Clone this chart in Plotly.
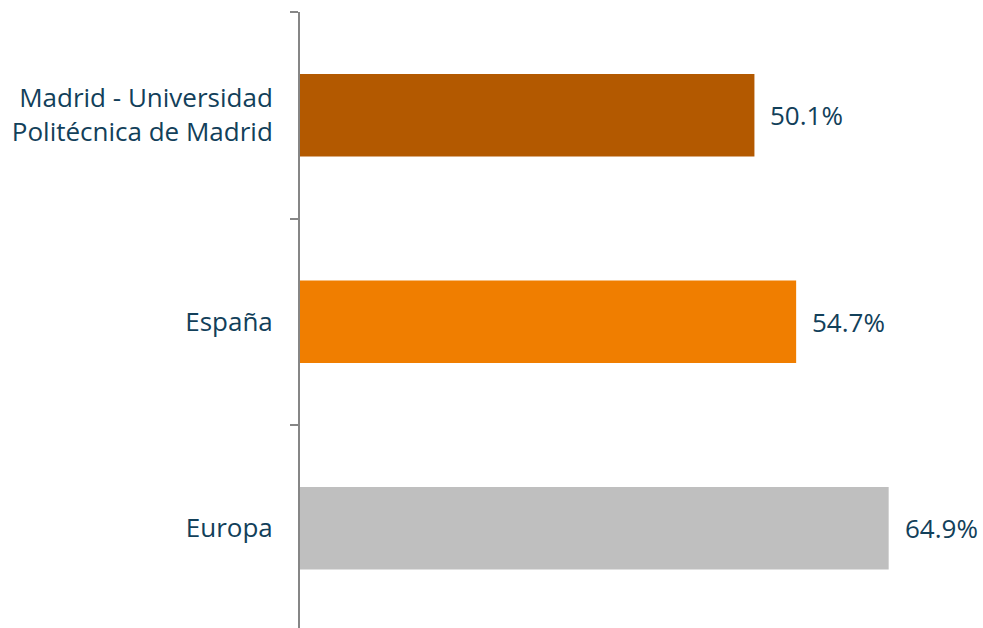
import plotly.graph_objects as go

categories = ["Madrid - Universidad<br>Politécnica de Madrid", "España", "Europa"]
values = [50.1, 54.7, 64.9]
value_labels = ["50.1%", "54.7%", "64.9%"]
bar_colors = ["#B35900", "#F07E00", "#BFBFBF"]

text_color = "#12405A"
font_family = "'Open Sans', sans-serif"

fig = go.Figure()
fig.add_trace(go.Bar(
    x=values, y=categories, orientation="h",
    marker=dict(color=bar_colors, line=dict(width=0)),
    hoverinfo="skip",
))

for c, v, t in zip(categories, values, value_labels):
    fig.add_annotation(x=v, y=c, text=t, showarrow=False, xanchor="left",
                       xshift=14, font=dict(size=26, color=text_color, family=font_family))

fig.update_layout(
    width=983, height=628,
    margin=dict(l=300, r=0, t=12, b=0),
    paper_bgcolor="white", plot_bgcolor="white",
    bargap=0.6, showlegend=False,
    font=dict(family=font_family, color=text_color, size=26),
)
fig.update_xaxes(range=[0, 75.3], visible=False, showgrid=False, zeroline=False)
fig.update_yaxes(
    type="category", range=[2.483, -0.5],
    showline=True, linecolor="#868686", linewidth=2,
    ticks="outside", ticklen=8, tickcolor="#868686", tickwidth=2,
    tickson="boundaries", showgrid=False, zeroline=False,
    ticklabelstandoff=20,
    tickfont=dict(size=26, color=text_color, family=font_family),
)

fig.write_html(
    "out.html",
    config={"displayModeBar": False},
    post_script="document.body.style.margin='0';document.body.style.overflow='hidden';",
)
